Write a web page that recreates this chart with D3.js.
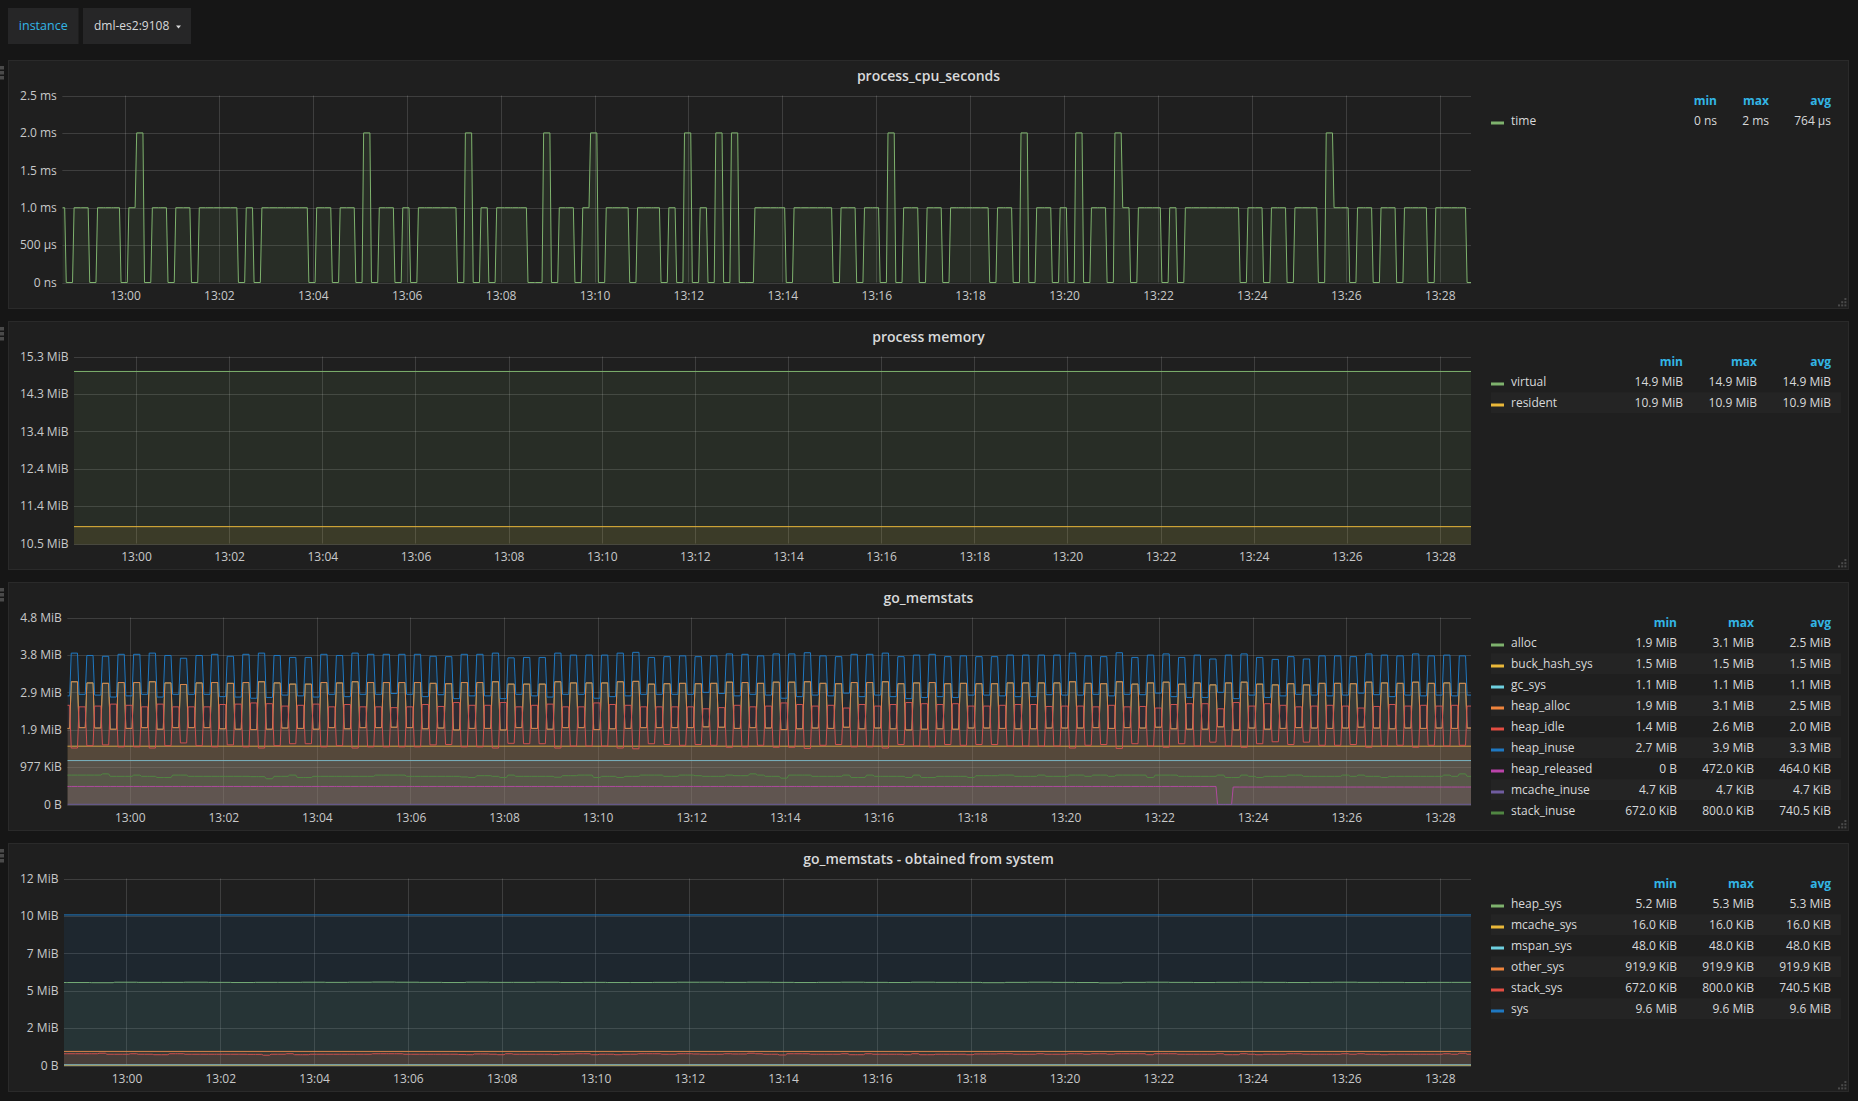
<!DOCTYPE html>
<html>
<head>
<meta charset="utf-8">
<script src="https://cdn.jsdelivr.net/npm/d3@7"></script>
<style>
html,body{margin:0;padding:0;background:#161616;}
svg{display:block;font-family:'Open Sans',sans-serif;}
</style>
</head>
<body>
<svg id="chart" width="1858" height="1101"></svg>
<script>
// ---------------- DATA ----------------
const windowStart = "12:58:40";
const windowEnd = "13:28:40";
const firstSampleEnd = "12:58:44";   // end of first 10 s sample slot
const sampleStepSec = 10;
const heapSysStepSec = 30;

const xTickTimes = ["13:00","13:02","13:04","13:06","13:08","13:10","13:12","13:14","13:16","13:18","13:20","13:22","13:24","13:26","13:28"];

// process_cpu_seconds (ms per 10 s slot)
const cpuMs = [
 1,0,1,1,0,1,1,1,0,1,
 2,0,1,1,0,1,1,0,1,1,
 1,1,1,0,1,0,1,1,1,1,
 1,1,0,1,1,0,1,1,0,2,
 0,1,1,0,1,0,1,1,1,1,
 1,0,2,0,1,0,1,1,1,1,
 0,0,2,0,1,1,0,1,2,0,
 1,1,1,0,1,1,1,0,1,0,
 2,0,1,0,2,0,2,0,0,1,
 1,1,1,0,1,1,1,1,1,0,
 1,1,0,1,1,0,2,0,1,1,
 0,1,1,0,1,1,1,1,1,0,
 1,1,0,2,0,1,1,0,1,0,
 2,0,1,1,0,2,1,0,1,1,
 1,0,1,0,1,1,1,1,1,1,
 1,0,1,1,0,1,1,0,1,1,
 1,0,2,1,1,0,1,1,0,1,
 1,0,1,1,1,0,1,1,1,1,
 0];
const cpuTickValues = [0,0.5,1,1.5,2,2.5];
const cpuTickLabels = ["0 ns","500 µs","1.0 ms","1.5 ms","2.0 ms","2.5 ms"];
const cpuNames = ["time"];
const cpuStats = [["0 ns","2 ms","764 µs"]];

// process memory (bytes, constant)
const virtualBytes = [15600000];
const residentBytes = [11450000];
const memTickValues = [11e6,12e6,13e6,14e6,15e6,16e6];
const memTickLabels = ["10.5 MiB","11.4 MiB","12.4 MiB","13.4 MiB","14.3 MiB","15.3 MiB"];
const memNames = ["virtual","resident"];
const memStats = [["14.9 MiB","14.9 MiB","14.9 MiB"],["10.9 MiB","10.9 MiB","10.9 MiB"]];

// go_memstats (per 10 s slot)
const allocMiB = [
 1.94,3.13,1.96,3.10,1.95,3.09,1.92,3.11,1.94,3.11,
 1.96,3.13,1.92,3.10,1.96,3.06,1.96,3.10,1.96,3.11,
 1.93,3.09,1.92,3.11,1.91,3.13,1.92,3.10,1.95,3.07,
 1.94,3.07,1.92,3.11,1.96,3.10,1.93,3.13,1.96,3.11,
 1.96,3.11,1.97,3.11,1.96,3.11,1.93,3.09,1.95,3.08,
 1.90,3.11,1.94,3.11,1.94,3.13,1.90,3.07,1.96,3.07,
 1.94,3.07,1.92,3.13,1.96,3.10,1.96,3.10,1.91,3.10,
 1.93,3.13,1.94,3.14,1.96,3.07,1.96,3.08,1.96,3.09,
 1.96,3.08,1.98,3.09,1.97,3.12,1.94,3.11,1.96,3.09,
 1.95,3.12,1.91,3.12,1.93,3.13,1.95,3.09,1.94,3.08,
 1.97,3.11,1.93,3.11,1.95,3.13,1.93,3.08,1.90,3.10,
 1.92,3.11,1.93,3.08,1.92,3.09,1.95,3.08,1.95,3.08,
 1.94,3.10,1.93,3.10,1.93,3.10,1.95,3.10,1.95,3.13,
 1.95,3.09,1.96,3.08,1.94,3.13,1.96,3.07,1.95,3.10,
 1.97,3.12,1.93,3.07,1.92,3.10,1.92,3.05,1.98,3.10,
 1.90,3.12,1.95,3.07,1.92,3.05,1.94,3.08,1.96,3.05,
 1.95,3.09,1.94,3.09,1.95,3.08,1.97,3.12,1.95,3.10,
 1.93,3.09,1.95,3.12,1.94,3.09,1.95,3.10,1.94,3.09,
 1.95];
const heapAllocMiB = allocMiB.slice();
const heapInuseMiB = [
 2.77,3.86,2.81,3.80,2.79,3.78,2.74,3.83,2.77,3.83,
 2.81,3.86,2.74,3.80,2.81,3.73,2.81,3.80,2.81,3.83,
 2.75,3.78,2.74,3.83,2.71,3.86,2.73,3.80,2.79,3.75,
 2.77,3.75,2.74,3.83,2.81,3.80,2.75,3.86,2.81,3.83,
 2.81,3.83,2.83,3.83,2.81,3.83,2.75,3.78,2.80,3.77,
 2.70,3.83,2.77,3.83,2.77,3.86,2.70,3.74,2.81,3.75,
 2.77,3.75,2.74,3.86,2.81,3.81,2.81,3.81,2.71,3.81,
 2.75,3.86,2.77,3.88,2.81,3.75,2.81,3.77,2.81,3.79,
 2.81,3.77,2.86,3.79,2.83,3.84,2.77,3.83,2.81,3.79,
 2.79,3.84,2.71,3.84,2.75,3.87,2.79,3.79,2.77,3.77,
 2.84,3.83,2.75,3.83,2.79,3.86,2.75,3.77,2.70,3.81,
 2.73,3.83,2.75,3.77,2.73,3.79,2.79,3.77,2.79,3.77,
 2.77,3.81,2.75,3.81,2.75,3.81,2.80,3.81,2.79,3.86,
 2.79,3.79,2.81,3.77,2.77,3.87,2.81,3.75,2.80,3.81,
 2.84,3.84,2.75,3.75,2.73,3.81,2.73,3.71,2.86,3.81,
 2.70,3.84,2.79,3.75,2.73,3.70,2.77,3.77,2.81,3.71,
 2.79,3.79,2.77,3.79,2.79,3.77,2.84,3.84,2.80,3.81,
 2.75,3.79,2.79,3.84,2.77,3.79,2.79,3.81,2.77,3.79,
 2.79];
const heapIdleMiB = [
 2.53,1.44,2.49,1.50,2.51,1.52,2.56,1.47,2.53,1.47,
 2.49,1.44,2.56,1.50,2.49,1.57,2.49,1.50,2.49,1.47,
 2.55,1.52,2.56,1.47,2.59,1.44,2.57,1.50,2.51,1.55,
 2.53,1.55,2.56,1.47,2.49,1.50,2.55,1.44,2.49,1.47,
 2.49,1.47,2.47,1.47,2.49,1.47,2.55,1.52,2.50,1.53,
 2.60,1.47,2.53,1.47,2.53,1.44,2.60,1.56,2.49,1.55,
 2.53,1.55,2.56,1.44,2.49,1.49,2.49,1.49,2.59,1.49,
 2.55,1.44,2.53,1.42,2.49,1.55,2.49,1.53,2.49,1.51,
 2.49,1.53,2.44,1.51,2.47,1.46,2.53,1.47,2.49,1.51,
 2.51,1.46,2.59,1.46,2.55,1.43,2.51,1.51,2.53,1.53,
 2.46,1.47,2.55,1.47,2.51,1.44,2.55,1.53,2.60,1.49,
 2.57,1.47,2.55,1.53,2.57,1.51,2.51,1.53,2.51,1.53,
 2.53,1.49,2.55,1.49,2.55,1.49,2.50,1.49,2.51,1.44,
 2.51,1.51,2.49,1.53,2.53,1.43,2.49,1.55,2.50,1.49,
 2.46,1.46,2.55,1.55,2.57,1.49,2.57,1.59,2.44,1.49,
 2.60,1.46,2.51,1.55,2.57,1.60,2.53,1.53,2.49,1.59,
 2.51,1.51,2.53,1.51,2.51,1.53,2.46,1.46,2.50,1.49,
 2.55,1.51,2.51,1.46,2.53,1.51,2.51,1.49,2.53,1.51,
 2.51];
const stackKiB = [
 768,768,768,768,768,800,736,736,736,768,
 736,736,704,704,768,768,736,736,736,736,
 736,736,736,736,728,728,672,736,736,768,
 704,704,736,736,736,736,736,736,736,736,
 768,768,768,768,736,736,736,736,736,736,
 736,720,704,752,752,736,704,768,736,736,
 736,736,736,712,752,752,768,768,704,736,
 736,704,736,736,768,768,768,736,736,768,
 768,752,736,736,736,768,752,752,800,768,
 736,736,688,768,768,768,736,736,736,736,
 768,704,704,768,736,736,736,736,704,768,
 704,704,736,736,736,736,704,752,752,752,
 768,768,736,736,736,768,736,736,736,768,
 768,736,768,768,736,768,768,768,768,704,
 768,768,768,736,736,736,736,736,768,704,
 704,768,736,704,736,736,736,768,768,736,
 736,736,736,736,768,736,768,736,736,704,
 736,736,736,736,736,736,736,768,736,800,
 736];
// heap_released as runs: [number of 10 s slots, KiB]
const heapReleasedRuns = [[148,472],[2,0],[31,456]];
const buckHashSysMiB = [1.487];
const gcSysMiB = [1.12];
const mcacheInuseKiB = [4.7];
const goTickValues = [0,1e6,2e6,3e6,4e6,5e6];
const goTickLabels = ["0 B","977 KiB","1.9 MiB","2.9 MiB","3.8 MiB","4.8 MiB"];
const goNames = ["alloc","buck_hash_sys","gc_sys","heap_alloc","heap_idle","heap_inuse","heap_released","mcache_inuse","stack_inuse"];
const goStats = [
 ["1.9 MiB","3.1 MiB","2.5 MiB"],
 ["1.5 MiB","1.5 MiB","1.5 MiB"],
 ["1.1 MiB","1.1 MiB","1.1 MiB"],
 ["1.9 MiB","3.1 MiB","2.5 MiB"],
 ["1.4 MiB","2.6 MiB","2.0 MiB"],
 ["2.7 MiB","3.9 MiB","3.3 MiB"],
 ["0 B","472.0 KiB","464.0 KiB"],
 ["4.7 KiB","4.7 KiB","4.7 KiB"],
 ["672.0 KiB","800.0 KiB","740.5 KiB"]];

// go_memstats - obtained from system
const heapSysMiB = [
 5.29,5.29,5.28,5.31,5.30,5.30,5.31,5.30,5.29,5.30,
 5.30,5.31,5.30,5.31,5.32,5.31,5.30,5.29,5.31,5.30,
 5.30,5.31,5.29,5.30,5.29,5.29,5.30,5.31,5.31,5.30,
 5.31,5.30,5.29,5.30,5.31,5.30,5.29,5.31,5.30,5.30,
 5.28,5.30,5.31,5.30,5.29,5.27,5.30,5.31,5.30,5.29,
 5.30,5.31,5.30,5.29,5.30,5.31,5.30,5.30,5.29,5.30,
 5.30];
const mcacheSysKiB = [16];
const mspanSysKiB = [48];
const otherSysKiB = [919.9];
const stackSysKiB = stackKiB.slice();
const sysMiB = [9.6];
const sysTickValues = [0,2.5e6,5e6,7.5e6,10e6,12.5e6];
const sysTickLabels = ["0 B","2 MiB","5 MiB","7 MiB","10 MiB","12 MiB"];
const sysNames = ["heap_sys","mcache_sys","mspan_sys","other_sys","stack_sys","sys"];
const sysStats = [
 ["5.2 MiB","5.3 MiB","5.3 MiB"],
 ["16.0 KiB","16.0 KiB","16.0 KiB"],
 ["48.0 KiB","48.0 KiB","48.0 KiB"],
 ["919.9 KiB","919.9 KiB","919.9 KiB"],
 ["672.0 KiB","800.0 KiB","740.5 KiB"],
 ["9.6 MiB","9.6 MiB","9.6 MiB"]];

const palette = ["#7EB26D","#EAB839","#6ED0E0","#EF843C","#E24D42","#1F78C1","#BA43A9","#705DA0","#508642"];

// ---------------- HELPERS ----------------
const parseT = s => { const p = s.split(":").map(Number); return new Date(2018,0,1,p[0],p[1],p[2]||0); };
const W0 = parseT(windowStart), W1 = parseT(windowEnd), F0 = parseT(firstSampleEnd);
const MiB = 1048576, KiB = 1024;

// each value holds for one sample slot; 2 s transition between slots
function slotPoints(values, stepSec, mult) {
  const pts = [];
  values.forEach((v, k) => {
    const s = +F0 + (k - 1) * stepSec * 1000, e = +F0 + k * stepSec * 1000;
    const a = Math.max(s + 1000, +W0), b = Math.min(e - 1000, +W1);
    if (b < a) return;
    pts.push({t: new Date(a), v: v * mult}, {t: new Date(b), v: v * mult});
  });
  return pts;
}
function constPoints(arr, mult) {
  return [{t: W0, v: arr[0] * mult}, {t: W1, v: arr[0] * mult}];
}
function expandRuns(runs) {
  const out = [];
  runs.forEach(([n, v]) => { for (let i = 0; i < n; i++) out.push(v); });
  return out;
}

const svg = d3.select("#chart");
const FONT = "'Open Sans', sans-serif";

// ---------------- TOP BAR ----------------
svg.append("rect").attr("x",8).attr("y",8).attr("width",70.5).attr("height",36).attr("fill","#262627");
svg.append("text").attr("x",43.25).attr("y",30.3).attr("text-anchor","middle").attr("fill","#33b5e5")
  .attr("font-size",12.5).attr("font-family",FONT).text("instance");
svg.append("rect").attr("x",83).attr("y",8).attr("width",108).attr("height",36).attr("fill","#262627");
svg.append("text").attr("x",94).attr("y",30.3).attr("fill","#d8d9da")
  .attr("font-size",12).attr("font-family",FONT).text("dml-es2:9108");
svg.append("path").attr("d","M176,25.5 L181,25.5 L178.5,28.5 Z").attr("fill","#d8d9da");

// ---------------- PANELS ----------------
const panels = [
  { title: "process_cpu_seconds", top: 60, yDomain: [0,2.5], yTicks: cpuTickValues, yLabels: cpuTickLabels,
    names: cpuNames, stats: cpuStats, cols: [1717,1769,1831],
    series: [ slotPoints(cpuMs, sampleStepSec, 1) ] },
  { title: "process memory", top: 321, yDomain: [11e6,16e6], yTicks: memTickValues, yLabels: memTickLabels,
    names: memNames, stats: memStats, cols: [1683,1757,1831],
    series: [ constPoints(virtualBytes,1), constPoints(residentBytes,1) ] },
  { title: "go_memstats", top: 582, yDomain: [0,5e6], yTicks: goTickValues, yLabels: goTickLabels,
    names: goNames, stats: goStats, cols: [1677,1754,1831],
    series: [
      slotPoints(allocMiB, sampleStepSec, MiB),
      constPoints(buckHashSysMiB, MiB),
      constPoints(gcSysMiB, MiB),
      slotPoints(heapAllocMiB, sampleStepSec, MiB),
      slotPoints(heapIdleMiB, sampleStepSec, MiB),
      slotPoints(heapInuseMiB, sampleStepSec, MiB),
      slotPoints(expandRuns(heapReleasedRuns), sampleStepSec, KiB),
      constPoints(mcacheInuseKiB, KiB),
      slotPoints(stackKiB, sampleStepSec, KiB) ] },
  { title: "go_memstats - obtained from system", top: 843, yDomain: [0,12.5e6], yTicks: sysTickValues, yLabels: sysTickLabels,
    names: sysNames, stats: sysStats, cols: [1677,1754,1831],
    series: [
      slotPoints(heapSysMiB, heapSysStepSec, MiB),
      constPoints(mcacheSysKiB, KiB),
      constPoints(mspanSysKiB, KiB),
      constPoints(otherSysKiB, KiB),
      slotPoints(stackSysKiB, sampleStepSec, KiB),
      constPoints(sysMiB, MiB) ] }
];

panels.forEach((p, pi) => {
  const g = svg.append("g");
  const top = p.top, H = 249;
  g.append("rect").attr("x",8.5).attr("y",top+0.5).attr("width",1840).attr("height",H-1)
    .attr("fill","#1f1f1f").attr("stroke","#2a2a2a");
  // drag handle
  [0,1,2].forEach(i => g.append("rect").attr("x",0).attr("y",top+6+i*5).attr("width",4).attr("height",3.5).attr("fill","#4a4a4a"));
  // resize handle
  [[0,2],[1,1],[1,2],[2,0],[2,1],[2,2]].forEach(([r,c]) =>
    g.append("rect").attr("x",1838+c*3.2).attr("y",top+H-11+r*3.2).attr("width",2).attr("height",2).attr("fill","#4a4a4a"));
  // title
  g.append("text").attr("x",928.5).attr("y",top+21).attr("text-anchor","middle").attr("fill","#d8d9da")
    .attr("font-size",14).attr("font-weight",600).attr("font-family",FONT).text(p.title);

  const plotTop = top + 35.5, plotBottom = top + 222.5;
  const y = d3.scaleLinear().domain(p.yDomain).range([plotBottom, plotTop]);
  const yAxisG = g.append("g")
    .call(d3.axisLeft(y).tickValues(p.yTicks).tickFormat((d,i) => p.yLabels[i]).tickSize(0).tickPadding(0))
    .attr("font-size",12).attr("font-family",FONT);
  yAxisG.select(".domain").remove();
  yAxisG.selectAll("text").attr("fill","#c8c9ca");
  let maxW = 0;
  yAxisG.selectAll("text").each(function(){ maxW = Math.max(maxW, this.getComputedTextLength()); });
  const labelRight = 20 + maxW;
  yAxisG.attr("transform",`translate(${labelRight},0)`);
  const plotLeft = labelRight + 5.5, plotRight = 1471;

  const x = d3.scaleTime().domain([W0,W1]).range([plotLeft, plotRight]);
  const xTicks = xTickTimes.map(s => parseT(s));
  const xAxisG = g.append("g").attr("transform",`translate(0,${plotBottom})`)
    .call(d3.axisBottom(x).tickValues(xTicks).tickFormat((d,i) => xTickTimes[i]).tickSize(0).tickPadding(9))
    .attr("font-size",12).attr("font-family",FONT);
  xAxisG.select(".domain").remove();
  xAxisG.selectAll("text").attr("fill","#c8c9ca");

  // grid
  const grid = g.append("g").attr("stroke","rgba(255,255,255,0.14)").attr("stroke-width",1);
  p.yTicks.forEach(t => {
    const yy = Math.round(y(t)) + 0.5;
    grid.append("line").attr("x1",plotLeft).attr("x2",plotRight).attr("y1",yy).attr("y2",yy);
  });
  xTicks.forEach(t => {
    const xx = Math.round(x(t)) + 0.5;
    grid.append("line").attr("x1",xx).attr("x2",xx).attr("y1",plotTop).attr("y2",plotBottom);
  });

  // clip
  const cid = "clip" + pi;
  g.append("clipPath").attr("id",cid).append("rect")
    .attr("x",plotLeft).attr("y",plotTop-1).attr("width",plotRight-plotLeft).attr("height",plotBottom-plotTop+2);
  const plot = g.append("g").attr("clip-path",`url(#${cid})`);
  const line = d3.line().x(d => x(d.t)).y(d => y(d.v));
  const area = d3.area().x(d => x(d.t)).y0(y(0)).y1(d => y(d.v));
  p.series.forEach((pts, i) => {
    const col = palette[i];
    plot.append("path").datum(pts).attr("d",area).attr("fill",col).attr("fill-opacity",0.1);
    plot.append("path").datum(pts).attr("d",line).attr("fill","none").attr("stroke",col)
      .attr("stroke-width",1).attr("stroke-linejoin","round");
  });

  // legend
  const lg = g.append("g").attr("font-family",FONT).attr("font-size",12);
  const headY = top + 40.7, row0 = top + 60.7, rowH = 21;
  ["min","max","avg"].forEach((h, j) =>
    lg.append("text").attr("x",p.cols[j]).attr("y",headY+4.2).attr("text-anchor","end")
      .attr("fill","#33b5e5").attr("font-weight",700).text(h));
  p.names.forEach((n, i) => {
    const cy = row0 + i * rowH;
    if (i % 2 === 1) lg.append("rect").attr("x",1491).attr("y",cy-10.5).attr("width",350).attr("height",rowH)
      .attr("fill","rgba(255,255,255,0.025)");
    lg.append("rect").attr("x",1491).attr("y",cy+0.8).attr("width",13).attr("height",3).attr("fill",palette[i]);
    lg.append("text").attr("x",1511).attr("y",cy+4.2).attr("fill","#d8d9da").text(n);
    p.stats[i].forEach((s, j) =>
      lg.append("text").attr("x",p.cols[j]).attr("y",cy+4.2).attr("text-anchor","end").attr("fill","#d8d9da").text(s));
  });
});
</script>
</body>
</html>
